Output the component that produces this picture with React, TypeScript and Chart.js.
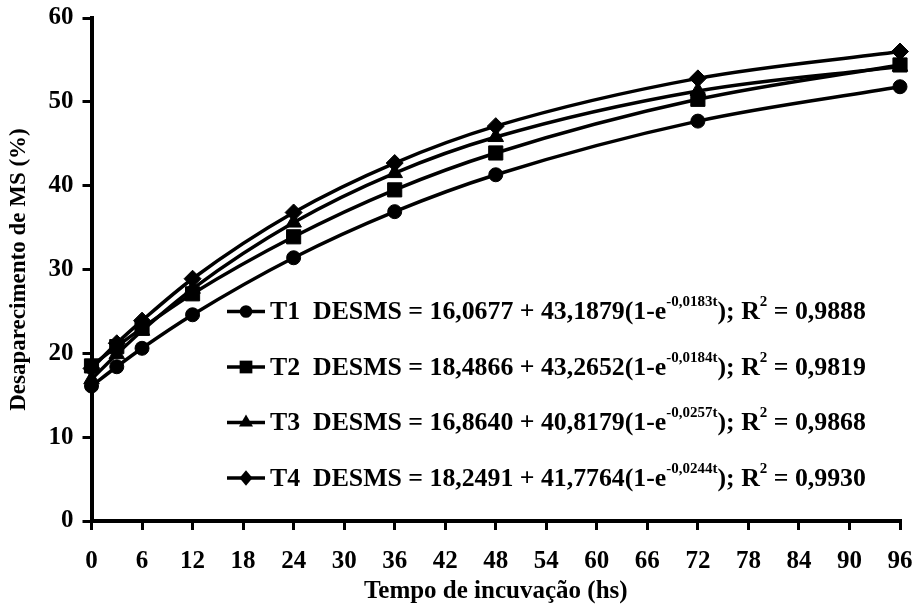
import React, { useEffect, useRef } from "react";
import { Chart, registerables } from "chart.js";

Chart.register(...registerables);

const times = [0, 3, 6, 12, 24, 36, 48, 72, 96];
const seriesNames = ["T1", "T2", "T3", "T4"];
const t1 = [16.1, 18.4, 20.6, 24.6, 31.4, 36.9, 41.3, 47.7, 51.8];
const t2 = [18.5, 20.8, 23.0, 27.1, 33.9, 39.5, 43.9, 50.3, 54.4];
const t3 = [16.9, 19.9, 22.7, 27.7, 35.6, 41.5, 45.8, 51.3, 54.2];
const t4 = [18.2, 21.2, 23.9, 28.9, 36.8, 42.7, 47.1, 52.8, 56.0];
const intercepts = ["16,0677", "18,4866", "16,8640", "18,2491"];
const coefs = ["43,1879", "43,2652", "40,8179", "41,7764"];
const rates = ["-0,0183t", "-0,0184t", "-0,0257t", "-0,0244t"];
const r2s = ["0,9888", "0,9819", "0,9868", "0,9930"];
const markers = ["circle", "rect", "triangle", "rectRot"];
const markerRadius = [7, 10, 9, 8.5];

const xTitle = "Tempo de incuvação (hs)";
const yTitle = "Desaparecimento de MS (%)";

const FONT = "'Liberation Serif', 'Times New Roman', serif";

function drawMarker(ctx: CanvasRenderingContext2D, style: string, r: number, x: number, y: number) {
  ctx.beginPath();
  if (style === "circle") {
    ctx.arc(x, y, r, 0, Math.PI * 2);
  } else if (style === "rect") {
    const s = r * Math.SQRT1_2;
    ctx.rect(x - s, y - s, 2 * s, 2 * s);
  } else if (style === "triangle") {
    ctx.moveTo(x, y - r);
    ctx.lineTo(x + r * 0.866, y + r * 0.5);
    ctx.lineTo(x - r * 0.866, y + r * 0.5);
    ctx.closePath();
  } else {
    ctx.moveTo(x, y - r);
    ctx.lineTo(x + r * 0.85, y);
    ctx.lineTo(x, y + r);
    ctx.lineTo(x - r * 0.85, y);
    ctx.closePath();
  }
  ctx.fill();
}

const legendPlugin = {
  id: "eqLegend",
  afterDraw(chart: any) {
    const ctx = chart.ctx;
    const x0 = 227;
    const x1 = 265;
    const yStart = 311.5;
    const dy = 55.5;
    ctx.save();
    chart.data.datasets.forEach((_ds: any, i: number) => {
      const y = yStart + i * dy;
      ctx.strokeStyle = "#000";
      ctx.lineWidth = 3.5;
      ctx.beginPath();
      ctx.moveTo(x0, y);
      ctx.lineTo(x1, y);
      ctx.stroke();
      ctx.fillStyle = "#000";
      drawMarker(ctx, markers[i], markerRadius[i] * 0.9, (x0 + x1) / 2, y);
      ctx.textBaseline = "middle";
      ctx.textAlign = "left";
      let x = 270;
      const big = `bold 25.8px ${FONT}`;
      const small = `bold 15px ${FONT}`;
      const parts: [string, boolean][] = [
        [seriesNames[i], false],
        ["  DESMS = " + intercepts[i] + " + " + coefs[i] + "(1-e", false],
        [rates[i], true],
        ["); R", false],
        ["2", true],
        [" = " + r2s[i], false],
      ];
      const yBase = y + 1;
      parts.forEach(([txt, sup]) => {
        ctx.font = sup ? small : big;
        ctx.fillText(txt, x, sup ? yBase - 10 : yBase);
        x += ctx.measureText(txt).width;
      });
    });
    ctx.restore();
  },
};

export default function App() {
  const ref = useRef<HTMLCanvasElement | null>(null);
  useEffect(() => {
    document.body.style.margin = "0";
    const series = [t1, t2, t3, t4];
    const chart = new Chart(ref.current as HTMLCanvasElement, {
      type: "line",
      data: {
        datasets: series.map((s, i) => ({
          label: seriesNames[i],
          data: times.map((t, j) => ({ x: t, y: s[j] })),
          borderColor: "#000",
          backgroundColor: "#000",
          borderWidth: 3.5,
          pointStyle: markers[i] as any,
          pointRadius: markerRadius[i],
          pointBorderWidth: 1,
          pointBackgroundColor: "#000",
          pointBorderColor: "#000",
          cubicInterpolationMode: "monotone" as const,
          fill: false,
          clip: false as any,
        })),
      },
      options: {
        animation: false,
        responsive: false,
        maintainAspectRatio: false,
        layout: { padding: { top: 18, right: 15, left: 0, bottom: 0 } },
        plugins: {
          legend: { display: false },
          tooltip: { enabled: false },
        },
        scales: {
          x: {
            type: "linear",
            min: 0,
            max: 96,
            afterFit: (s: any) => {
              s.height = 94;
              s.paddingLeft = 0;
              s.paddingRight = 0;
            },
            ticks: {
              stepSize: 6,
              color: "#000",
              font: { family: FONT, size: 25, weight: "bold" },
              padding: 17,
              maxRotation: 0,
              autoSkip: false,
            },
            grid: {
              display: true,
              drawOnChartArea: false,
              drawTicks: true,
              tickLength: 9,
              lineWidth: 3,
              color: "#000",
            },
            border: { display: true, width: 4, color: "#000" },
            title: {
              display: true,
              text: xTitle,
              color: "#000",
              font: { family: FONT, size: 25, weight: "bold" },
              padding: { top: 0, bottom: 8 },
            },
          },
          y: {
            type: "linear",
            min: 0,
            max: 60,
            afterFit: (s: any) => {
              s.width = 91.5;
              s.paddingTop = 0;
              s.paddingBottom = 0;
            },
            ticks: {
              stepSize: 10,
              color: "#000",
              font: { family: FONT, size: 25, weight: "bold" },
              padding: 9,
            },
            grid: {
              display: true,
              drawOnChartArea: false,
              drawTicks: true,
              tickLength: 9,
              lineWidth: 3,
              color: "#000",
            },
            border: { display: true, width: 4, color: "#000" },
            title: {
              display: true,
              text: yTitle,
              color: "#000",
              font: { family: FONT, size: 23, weight: "bold" },
              padding: { bottom: 0, top: 5 },
            },
          },
        },
      },
      plugins: [legendPlugin],
    });
    return () => chart.destroy();
  }, []);
  return (
    <div style={{ position: "fixed", left: 0, top: 0, width: 915, height: 615, background: "#fff" }}>
      <canvas ref={ref} width={915} height={615} style={{ width: 915, height: 615 }} />
    </div>
  );
}
